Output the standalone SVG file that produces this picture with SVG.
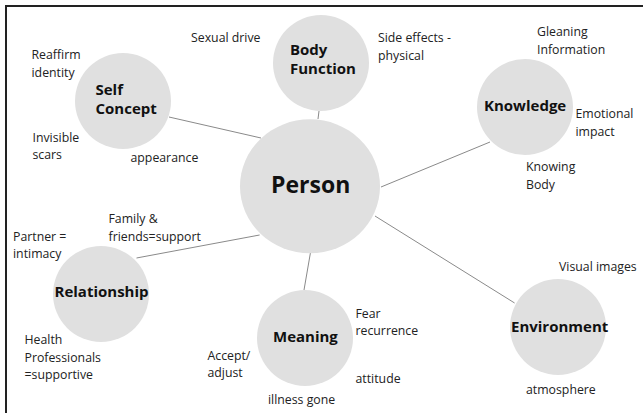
<svg xmlns="http://www.w3.org/2000/svg" width="643" height="413" viewBox="0 0 643 413">
<style>
.node{fill:#e0e0e0;stroke:none}
.lbl{font-family:"Open Sans","Noto Sans",sans-serif;font-weight:bold;font-size:15px;fill:#111}
.big{font-size:23px}
.t{font-family:"Open Sans","Noto Sans",sans-serif;font-size:12.3px;fill:#222}
.c{stroke:#8a8a8a;stroke-width:1;fill:none}
</style>
<rect x="6" y="6" width="660" height="420" fill="#fff" stroke="#222" stroke-width="2"/>
<g id="connectors">
<line class="c" x1="169" y1="117" x2="261" y2="138"/>
<line class="c" x1="319" y1="111" x2="318" y2="119"/>
<line class="c" x1="490" y1="142" x2="381" y2="187"/>
<line class="c" x1="136.5" y1="258" x2="259.6" y2="235"/>
<line class="c" x1="310.4" y1="253" x2="304" y2="290"/>
<line class="c" x1="375" y1="216" x2="514.6" y2="303"/>
</g>
<g id="person">
<ellipse class="node" cx="310" cy="186.3" rx="70" ry="67"/>
<text class="lbl big" x="271" y="193">Person</text>
</g>
<g id="self-concept">
<circle class="node" cx="123" cy="101" r="48"/>
<text class="lbl" x="95.5" y="94.5">Self</text>
<text class="lbl" x="95.5" y="113.5">Concept</text>
</g>
<g id="body-function">
<circle class="node" cx="321" cy="63" r="48"/>
<text class="lbl" x="290" y="55">Body</text>
<text class="lbl" x="290" y="74">Function</text>
</g>
<g id="knowledge">
<circle class="node" cx="525" cy="107" r="48"/>
<text class="lbl" x="484" y="111">Knowledge</text>
</g>
<g id="relationship">
<circle class="node" cx="101" cy="294" r="48"/>
<text class="lbl" x="54.5" y="297">Relationship</text>
</g>
<g id="meaning">
<circle class="node" cx="305" cy="338" r="48"/>
<text class="lbl" x="273" y="342">Meaning</text>
</g>
<g id="environment">
<circle class="node" cx="558" cy="327" r="48"/>
<text class="lbl" x="511" y="332">Environment</text>
</g>
<g id="annotations">
<text class="t" x="191" y="42">Sexual drive</text>
<text class="t" x="378" y="42">Side effects -</text>
<text class="t" x="378" y="59.5">physical</text>
<text class="t" x="31.5" y="59">Reaffirm</text>
<text class="t" x="31.5" y="76.5">identity</text>
<text class="t" x="32.5" y="141.5">Invisible</text>
<text class="t" x="32.5" y="159">scars</text>
<text class="t" x="130.5" y="162">appearance</text>
<text class="t" x="537" y="36">Gleaning</text>
<text class="t" x="537" y="53.5">Information</text>
<text class="t" x="575.5" y="118">Emotional</text>
<text class="t" x="575.5" y="135.5">impact</text>
<text class="t" x="526" y="171">Knowing</text>
<text class="t" x="526" y="188.5">Body</text>
<text class="t" x="108.5" y="223">Family &amp;</text>
<text class="t" x="108.5" y="240.5">friends=support</text>
<text class="t" x="13" y="240.5">Partner =</text>
<text class="t" x="13" y="258">intimacy</text>
<text class="t" x="24.5" y="344">Health</text>
<text class="t" x="24.5" y="361.5">Professionals</text>
<text class="t" x="24.5" y="379">=supportive</text>
<text class="t" x="355.5" y="317.5">Fear</text>
<text class="t" x="355.5" y="334.5">recurrence</text>
<text class="t" x="207.5" y="359.5">Accept/</text>
<text class="t" x="207.5" y="377">adjust</text>
<text class="t" x="355.5" y="382.5">attitude</text>
<text class="t" x="268" y="404">illness gone</text>
<text class="t" x="559" y="271">Visual images</text>
<text class="t" x="526" y="393.5">atmosphere</text>
</g>
</svg>
